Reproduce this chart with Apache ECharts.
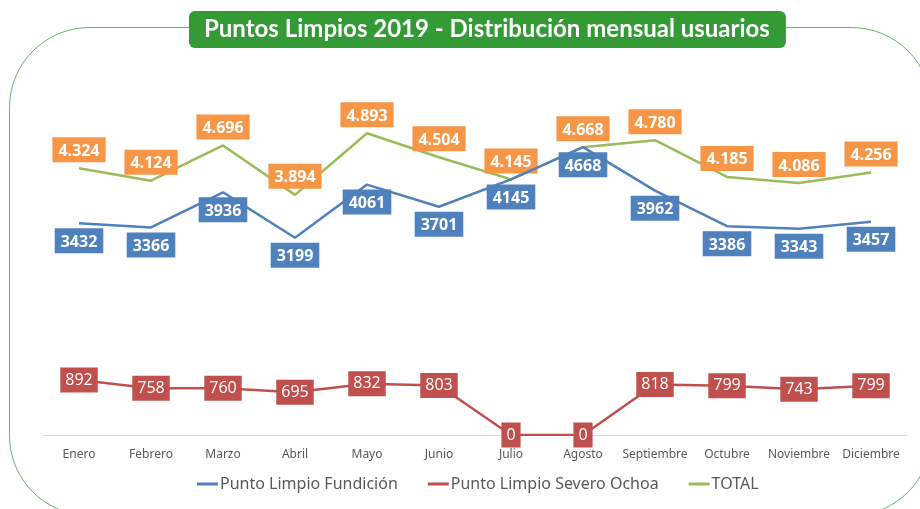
<!DOCTYPE html>
<html>
<head>
<meta charset="utf-8">
<script src="https://cdn.jsdelivr.net/npm/echarts@6/dist/echarts.min.js"></script>
<style>html,body{margin:0;padding:0;background:#fff}#c{width:920px;height:509px}</style>
</head>
<body>
<div id="c"></div>
<script>
const months = ['Enero','Febrero','Marzo','Abril','Mayo','Junio','Julio','Agosto','Septiembre','Octubre','Noviembre','Diciembre'];
const fundicion = [3432, 3366, 3936, 3199, 4061, 3701, 4145, 4668, 3962, 3386, 3343, 3457];
const severoOchoa = [892, 758, 760, 695, 832, 803, 0, 0, 818, 799, 743, 799];
const total = [4324, 4124, 4696, 3894, 4893, 4504, 4145, 4668, 4780, 4185, 4086, 4256];
const titleText = 'Puntos Limpios 2019 - Distribución mensual usuarios';

const chart = echarts.init(document.getElementById('c'), null, {renderer: 'canvas'});
const fmtDot = v => String(v.value).replace(/\B(?=(\d{3})+(?!\d))/g, '.');
chart.setOption({
  animation: false,
  backgroundColor: '#fff',
  graphic: [{
    type: 'rect', z: -10,
    shape: {x: 9.5, y: 27.5, width: 922, height: 488, r: 80},
    style: {fill: 'none', stroke: '#62b862', lineWidth: 1}
  }],
  title: {
    text: titleText,
    left: 189, top: 11,
    padding: [6, 16, 6, 15],
    backgroundColor: '#339a36',
    borderRadius: 6,
    textStyle: {color: '#fff', fontSize: 24, fontWeight: 'bold', fontFamily: 'Lato', lineHeight: 25}
  },
  legend: {
    bottom: 12, left: 192,
    itemWidth: 21, itemHeight: 3, itemGap: 30, icon: 'rect',
    textStyle: {color: '#595959', fontSize: 16, fontFamily: 'Noto Sans', padding: [0,0,0,-3]},
    data: ['Punto Limpio Fundición', 'Punto Limpio Severo Ochoa', 'TOTAL']
  },
  grid: {left: 43, right: 13, top: 65, bottom: 74},
  xAxis: {
    type: 'category', data: months, boundaryGap: true,
    axisLine: {lineStyle: {color: '#d9d9d9', width: 1}},
    axisTick: {show: false},
    axisLabel: {color: '#595959', fontSize: 12, fontFamily: 'Noto Sans', margin: 14, interval: 0}
  },
  yAxis: {type: 'value', min: 0, max: 6000, show: false, splitLine: {show: false}},
  series: [
    {
      name: 'Punto Limpio Fundición', type: 'line', data: fundicion,
      color: '#4f81bd', symbol: 'circle', symbolSize: 0, showSymbol: true,
      lineStyle: {width: 2.5, color: '#4f81bd'},
      label: {show: true, position: 'bottom', distance: 5, backgroundColor: '#4f81bd', color: '#fff',
        fontSize: 16, fontWeight: 'bold', fontFamily: 'Open Sans', padding: [6, 6, 3, 6]},
      z: 3
    },
    {
      name: 'Punto Limpio Severo Ochoa', type: 'line', data: severoOchoa,
      color: '#c0504d', symbol: 'circle', symbolSize: 0, showSymbol: true,
      lineStyle: {width: 2.5, color: '#c0504d'},
      label: {show: true, position: 'inside', backgroundColor: '#c0504d', color: '#fff',
        fontSize: 16, fontFamily: 'Open Sans', padding: [6, 5, 3, 5]},
      z: 4
    },
    {
      name: 'TOTAL', type: 'line', data: total,
      color: '#9bbb59', symbol: 'circle', symbolSize: 0, showSymbol: true,
      lineStyle: {width: 2.5, color: '#9bbb59'},
      label: {show: true, position: 'top', distance: 6, backgroundColor: '#f79646', color: '#fff',
        fontSize: 16, fontWeight: 'bold', fontFamily: 'Open Sans', padding: [6, 6, 3, 6], formatter: fmtDot},
      z: 2
    }
  ]
});
</script>
</body>
</html>
